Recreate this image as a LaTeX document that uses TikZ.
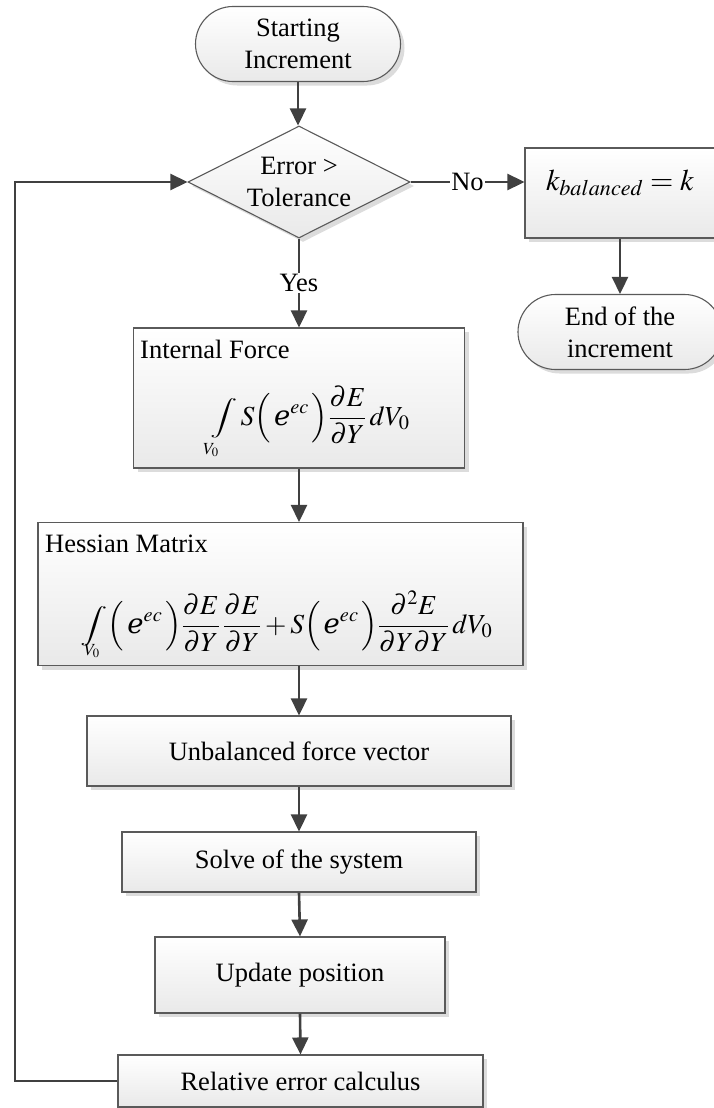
\documentclass[tikz,border=0pt]{standalone}
\usepackage{amsmath}
\usepackage{mathptmx}
\usepackage{fontspec}
\setmainfont{Liberation Serif}
\newfontfamily\dvs{DejaVu Sans}
\usetikzlibrary{shapes.geometric,shapes.misc,arrows.meta,shadows}
\definecolor{linec}{HTML}{404040}
\definecolor{borderc}{HTML}{5A5A5A}
\definecolor{fillb}{HTML}{E9E9E9}
\definecolor{shadowc}{HTML}{DCDCDC}
\newcommand{\scre}{\mbox{\dvs ℯ}}
\newcommand{\sint}{\mathop{\vcenter{\hbox{\scalebox{1.1}[0.72]{$\displaystyle\int$}}}}\nolimits}
\tikzset{
  conn/.style={draw=linec, line width=2.6pt, -{Triangle[length=17pt,width=16pt]}},
  boxbase/.style={draw=borderc, line width=1.1pt, top color=white, bottom color=fillb,
    drop shadow={shadow xshift=4pt, shadow yshift=-4pt, fill=shadowc, opacity=1},
    font=\fontsize{26.5}{32}\selectfont, align=center, inner sep=0pt},
  procbox/.style={boxbase, rectangle},
  term/.style={boxbase, rounded rectangle},
  decision/.style={boxbase, diamond, aspect=2},
  lab/.style={fill=white, inner sep=1.5pt, font=\fontsize{26.5}{32}\selectfont},
  txt/.style={inner sep=0pt, font=\fontsize{26.5}{32}\selectfont},
  mth/.style={inner sep=0pt, font=\fontsize{27.5}{33}\selectfont},
  lim/.style={inner sep=0pt, font=\fontsize{17}{19}\selectfont}
}
\begin{document}
\begin{tikzpicture}[x=1pt,y=-1pt]
\useasboundingbox (0,0) rectangle (713,1108);
% nodes
\node[term, minimum width=205pt, minimum height=75pt] (start) at (298,44) {Starting\\Increment};
\node[decision, minimum width=222pt, minimum height=112pt] (dec) at (299,182) {Error >\\Tolerance};
\node[procbox, minimum width=190pt, minimum height=90pt] (kb) at (620,193) {};
\node[mth, font=\fontsize{30}{34}\selectfont] (kbt) at (620,183) {$k_{balanced}=k$};
\node[term, minimum width=204pt, minimum height=75pt] (end) at (620,332) {End of the\\increment};
\node[procbox, minimum width=331pt, minimum height=140pt] (intf) at (299,398) {};
\node[txt, anchor=base west] (intfl) at (140,358) {Internal Force};
\node[mth, anchor=base] (intfm) at (310,425) {$\displaystyle\sint S\Bigl(\,\scre^{ec}\,\Bigr)\frac{\partial E}{\partial Y}\,dV_0$};
\node[lim] (intfv) at (211,450) {$V_0$};
\node[procbox, minimum width=485pt, minimum height=143pt] (hess) at (280.5,594) {};
\node[txt, anchor=base west] (hessl) at (45,552) {Hessian Matrix};
\node[mth, anchor=base] (hessm) at (286.5,633) {$\displaystyle\sint\Bigl(\,\scre^{ec}\,\Bigr)\frac{\partial E}{\partial Y}\,\frac{\partial E}{\partial Y}+S\Bigl(\,\scre^{ec}\,\Bigr)\frac{\partial^2 E}{\partial Y\partial Y}\,dV_0$};
\node[lim] (hessv) at (92,651) {$V_0$};
\node[procbox, minimum width=424pt, minimum height=70pt] (unb) at (299,751) {Unbalanced force vector};
\node[procbox, minimum width=354pt, minimum height=60pt] (solve) at (299,862) {Solve of the system};
\node[procbox, minimum width=290pt, minimum height=76pt] (upd) at (300,975) {Update position};
\node[procbox, minimum width=365pt, minimum height=52pt] (rel) at (300.5,1081) {Relative error calculus};
\coordinate (lp) at (15,0);
% connectors
\draw[conn] (start.south) -- (start.south |- dec.north);
\draw[conn] (dec.south) -- node[lab] (yes) {Yes} (dec.south |- intf.north);
\draw[conn] (dec.east) -- node[lab] (no) {No} (dec.east -| kb.west);
\draw[conn] (kb.south) -- (end.north);
\draw[conn] (intf.south) -- (intf.south |- hess.north);
\draw[conn] (unb.north |- hess.south) -- (unb.north);
\draw[conn] (unb.south) -- (solve.north);
\draw[conn] (solve.south) -- (upd.north);
\draw[conn] (upd.south) -- (rel.north);
\draw[conn] (rel.west) -- (rel.west -| lp) |- (dec.west);
\end{tikzpicture}
\end{document}
